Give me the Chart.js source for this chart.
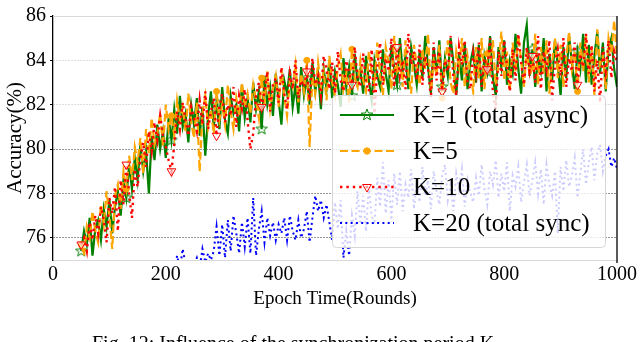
<!DOCTYPE html>
<html>
<head>
<meta charset="utf-8">
<script src="https://cdn.jsdelivr.net/npm/chart.js@4.4.1/dist/chart.umd.min.js"></script>
<style>
  html, body { margin: 0; padding: 0; background: #fff; overflow: hidden; }
  #wrap { position: relative; width: 640px; height: 342px; overflow: hidden; }
  #legenda-fig { position: absolute; left: 92px; top: 333px; line-height: 20px; font-size: 20px; font-family: "Liberation Serif", "Times New Roman", serif; white-space: nowrap; color: #000; }
</style>
</head>
<body>
<div id="wrap">
  <canvas id="grafico" width="640" height="342"></canvas>
  <div id="legenda-fig">Fig. 12: Influence of the synchronization period K</div>
</div>
<script>
// amostras a cada 5 rounds, de 50 a 1000
const epochStart = 50;
const epochStep = 5;

// K=1 (total async)
const k1 = [
  75.4, 76.3, 75.7, 76.9, 75.2, 76.4, 76.8, 75.9, 77.3, 76.5, 77.7, 76.2, 77.4, 78.1, 77.0, 78.6, 77.8, 79.3, 78.2, 79.6,
  78.6, 80.2, 79.0, 79.9, 78.0, 80.6, 79.5, 81.1, 80.0, 80.8, 79.6, 81.4, 80.4, 81.8, 80.7, 82.4, 81.0, 81.6, 80.3, 82.0,
  81.1, 82.3, 80.6, 81.9, 79.7, 81.5, 82.6, 81.0, 82.1, 80.9, 82.8, 81.3, 80.7, 82.4, 81.6, 82.0, 80.8, 82.9, 81.4, 82.3,
  81.2, 83.0, 81.8, 82.6, 80.9, 83.3, 82.0, 82.8, 81.5, 83.4, 82.2, 81.1, 83.1, 82.5, 83.6, 81.9, 82.9, 81.6, 83.7, 82.4,
  83.2, 82.0, 83.9, 82.6, 83.4, 81.8, 83.6, 82.7, 84.0, 82.3, 83.5, 82.9, 81.9, 84.1, 82.8, 83.7, 82.4, 84.3, 83.0, 83.6,
  82.5, 84.2, 83.1, 82.2, 84.0, 83.3, 82.8, 84.5, 83.4, 82.6, 84.7, 83.6, 82.9, 85.0, 83.5, 84.2, 82.7, 84.6, 83.8, 82.9,
  84.4, 83.2, 85.1, 83.7, 82.5, 84.6, 83.4, 84.9, 82.8, 84.1, 83.3, 85.0, 83.9, 82.4, 84.3, 83.1, 84.8, 82.7, 83.9, 84.5,
  83.0, 84.7, 82.6, 84.2, 83.5, 85.1, 83.2, 82.4, 84.6, 83.7, 84.9, 82.9, 84.0, 83.4, 85.2, 83.6, 82.5, 84.8, 85.6, 83.3,
  84.5, 82.8, 84.1, 83.5, 85.0, 82.6, 84.3, 83.1, 84.9, 83.8, 82.4, 84.6, 83.2, 85.1, 83.9, 82.7, 84.4, 83.6, 85.2, 83.0,
  84.7, 82.9, 84.2, 85.3, 83.4, 84.8, 82.6, 84.5, 85.0, 83.6, 82.8
];

// K=5
const k5 = [
  75.7, 75.2, 76.5, 76.0, 77.2, 76.3, 75.8, 77.5, 76.6, 78.1, 77.0, 75.5, 77.9, 78.4, 77.3, 79.0, 78.2, 79.7, 78.6, 80.1,
  79.4, 80.5, 78.9, 80.9, 79.8, 81.4, 80.2, 80.7, 81.6, 80.1, 82.0, 80.9, 81.5, 80.6, 82.2, 81.3, 81.9, 80.8, 82.5, 81.2,
  80.5, 82.1, 79.0, 81.6, 82.4, 81.0, 81.8, 80.7, 82.6, 81.3, 82.0, 81.1, 82.9, 81.7, 80.9, 82.3, 81.5, 83.0, 81.9, 82.5,
  81.6, 82.9, 82.2, 81.4, 83.2, 82.0, 83.5, 81.8, 82.7, 83.3, 81.9, 83.6, 82.4, 81.5, 83.1, 82.8, 83.8, 82.1, 83.4, 82.6,
  84.0, 80.1, 83.3, 82.5, 83.9, 82.8, 83.5, 82.2, 84.2, 83.0, 82.4, 83.7, 84.3, 82.7, 83.4, 82.1, 84.5, 83.2, 82.8, 84.0,
  83.1, 82.6, 84.4, 83.5, 82.9, 84.8, 83.3, 82.4, 84.6, 83.9, 82.7, 85.1, 83.6, 84.2, 82.8, 84.9, 83.4, 82.5, 84.7, 83.8,
  82.9, 84.5, 83.6, 85.2, 82.6, 84.0, 83.3, 84.7, 82.3, 83.8, 84.9, 83.0, 82.5, 84.4, 83.7, 85.0, 82.8, 84.2, 83.4, 82.6,
  84.6, 83.2, 85.0, 82.7, 84.3, 83.6, 84.9, 82.9, 83.8, 85.3, 83.1, 84.4, 82.6, 84.8, 83.5, 85.1, 84.0, 82.8, 84.5, 83.3,
  83.7, 85.2, 82.9, 84.6, 83.4, 84.9, 82.5, 83.9, 85.0, 83.2, 84.7, 82.8, 84.1, 85.3, 83.6, 84.4, 82.6, 84.8, 83.5, 85.1,
  83.0, 84.6, 82.4, 85.4, 83.8, 84.2, 82.7, 85.0, 84.3, 85.8, 84.1
];

// K=10
const k10 = [
  75.7, 76.0, 75.4, 76.7, 75.9, 77.0, 76.2, 77.4, 76.8, 75.8, 77.8, 77.1, 78.3, 76.3, 78.6, 77.5, 79.3, 78.0, 76.9, 79.1,
  78.3, 79.6, 80.3, 79.2, 80.8, 79.9, 81.2, 80.4, 81.5, 80.6, 80.1, 79.5, 79.0, 80.2, 81.7, 80.9, 82.1, 81.3, 80.6, 81.9,
  81.4, 80.8, 82.2, 81.1, 82.6, 80.9, 81.7, 82.3, 80.6, 81.9, 82.5, 81.2, 82.0, 81.5, 82.8, 81.0, 82.4, 81.8, 82.7, 81.3,
  80.0, 80.7, 82.4, 83.0, 81.9, 82.6, 83.5, 81.7, 82.9, 83.2, 82.1, 83.7, 82.5, 81.8, 83.4, 82.7, 84.0, 82.3, 83.1, 82.8,
  83.5, 82.2, 84.1, 82.9, 83.3, 82.4, 84.2, 83.6, 82.7, 83.9, 82.5, 84.4, 83.1, 82.6, 84.0, 83.4, 82.9, 84.6, 83.2, 82.8,
  84.3, 83.0, 82.6, 84.5, 81.6, 83.7, 84.8, 82.9, 84.1, 83.5, 85.0, 82.8, 84.6, 83.3, 84.0, 82.7, 85.2, 83.8, 84.4, 83.1,
  84.7, 82.9, 84.2, 83.6, 82.3, 84.8, 83.1, 84.4, 82.6, 84.0, 83.5, 85.1, 83.2, 82.4, 84.6, 83.8, 84.9, 83.0, 82.7, 84.3,
  83.4, 84.8, 82.8, 84.1, 83.6, 85.0, 82.5, 81.8, 84.4, 83.3, 84.9, 83.7, 82.6, 84.5, 83.1, 85.2, 83.9, 82.9, 84.6, 83.5,
  84.2, 83.0, 85.1, 82.7, 84.4, 83.6, 84.9, 82.2, 83.8, 84.5, 83.3, 85.0, 82.8, 84.1, 83.5, 84.8, 82.9, 84.3, 83.7, 85.2,
  83.4, 84.7, 82.6, 84.0, 82.1, 84.6, 83.5, 84.9, 83.2, 84.4, 83.9
];

// K=20 (total sync)
const k20 = [
  71.5, 72.0, 71.2, 72.4, 71.8, 72.6, 72.1, 72.9, 72.3, 73.0, 72.5, 73.3, 72.8, 73.1, 73.6, 72.9, 73.4, 73.8, 73.2, 74.0,
  73.5, 74.1, 73.7, 74.3, 73.9, 74.5, 74.0, 74.4, 74.2, 74.7, 74.3, 74.6, 74.8, 74.4, 75.2, 74.6, 75.5, 74.8, 75.0, 74.7,
  74.8, 75.1, 74.6, 75.5, 74.9, 75.3, 75.0, 75.4, 76.5, 75.2, 76.6, 75.1, 76.8, 75.4, 77.0, 76.2, 75.3, 76.7, 75.6, 76.9,
  75.3, 77.8, 75.2, 76.4, 77.2, 75.8, 76.9, 76.1, 76.7, 75.9, 76.6, 76.2, 76.9, 75.9, 77.0, 76.3, 75.9, 76.8, 76.0, 76.4,
  77.2, 75.8, 76.9, 77.9, 77.2, 77.7, 76.9, 77.5, 76.7, 75.9, 77.6, 76.4, 77.7, 75.1, 76.3, 75.2, 77.0, 76.1, 78.1, 76.6,
  77.9, 76.3, 78.3, 77.0, 76.6, 78.7, 77.4, 79.4, 77.1, 78.6, 76.8, 78.9, 77.5, 79.0, 77.2, 78.4, 77.8, 79.1, 77.3, 78.5,
  77.6, 79.2, 77.9, 78.6, 77.3, 79.0, 78.1, 77.5, 78.8, 79.3, 77.7, 78.4, 77.2, 78.9, 78.2, 79.1, 77.4, 78.6, 78.0, 77.6,
  78.7, 77.9, 79.3, 78.2, 77.5, 79.0, 78.4, 79.5, 77.8, 78.9, 78.1, 79.4, 77.2, 78.8, 78.3, 79.2, 77.6, 78.5, 79.3, 77.9,
  78.6, 79.4, 78.0, 79.1, 77.5, 79.3, 78.4, 77.9, 79.0, 76.2, 79.2, 78.1, 79.5, 78.3, 78.8, 79.6, 77.8, 78.9, 80.0, 78.4,
  79.4, 80.1, 78.6, 79.8, 80.2, 79.0, 79.7, 80.0, 79.2, 79.6, 79.1
];

const nomes = ['K=1 (total async)', 'K=5', 'K=10', 'K=20 (total sync)'];
const xTicks = [0, 200, 400, 600, 800, 1000];
const yTicks = [76, 78, 80, 82, 84, 86];

const epochs = k1.map((_, i) => epochStart + i * epochStep);
const fonte = '"Liberation Serif", "Times New Roman", serif';

// estrela vazada (marcador do K=1)
function fazerEstrela(cor) {
    const c = document.createElement('canvas');
    c.width = 14; c.height = 14;
    const g = c.getContext('2d');
    g.beginPath();
    for (let i = 0; i < 10; i++) {
        const r = i % 2 === 0 ? 6 : 2.5;
        const a = -Math.PI / 2 + i * Math.PI / 5;
        g.lineTo(7 + r * Math.cos(a), 7 + r * Math.sin(a));
    }
    g.closePath();
    g.strokeStyle = cor;
    g.lineWidth = 1;
    g.stroke();
    return c;
}

function pontos(valores) {
    return epochs.map((e, i) => ({ x: e, y: valores[i] }));
}

function marcaCada(r) {
    return function(ctx) { return ctx.dataIndex % 16 === 0 ? r : 0; };
}

const estrela = fazerEstrela('#008000');

// moldura: topo cinza claro e lateral direita preta
const moldura = {
    id: 'moldura',
    afterDatasetsDraw(chart) {
        const { ctx, chartArea: a } = chart;
        ctx.save();
        ctx.strokeStyle = '#d9d9d9';
        ctx.lineWidth = 1;
        ctx.beginPath();
        ctx.moveTo(a.left, a.top + 0.5);
        ctx.lineTo(a.right, a.top + 0.5);
        ctx.stroke();
        ctx.strokeStyle = '#000';
        ctx.lineWidth = 1.3;
        ctx.beginPath();
        ctx.moveTo(a.right, a.top);
        ctx.lineTo(a.right, a.bottom + 3);
        ctx.stroke();
        ctx.restore();
    }
};

// legenda dentro da area do grafico, semi transparente
const legendaInterna = {
    id: 'legendaInterna',
    afterDraw(chart) {
        const { ctx, chartArea: a } = chart;
        const w = 273, h = 152;
        const x0 = a.right - 12 - w;
        const y0 = a.bottom - 13 - h;
        ctx.save();
        ctx.beginPath();
        ctx.roundRect(x0 + 0.5, y0 + 0.5, w, h, 4);
        ctx.fillStyle = 'rgba(255,255,255,0.8)';
        ctx.fill();
        ctx.strokeStyle = '#d6d6d6';
        ctx.lineWidth = 1;
        ctx.stroke();

        chart.data.datasets.forEach(function(ds, i) {
            const y = y0 + 20 + i * 36;
            ctx.save();
            ctx.strokeStyle = ds.borderColor;
            ctx.lineWidth = ds.borderWidth;
            ctx.setLineDash(ds.borderDash || []);
            ctx.beginPath();
            ctx.moveTo(x0 + 8, y);
            ctx.lineTo(x0 + 62, y);
            ctx.stroke();
            ctx.restore();
            if (ds.pointStyle) {
                ctx.save();
                ctx.fillStyle = ds.pointBackgroundColor;
                ctx.strokeStyle = ds.pointBorderColor;
                ctx.lineWidth = ds.pointBorderWidth;
                Chart.helpers.drawPoint(ctx, {
                    pointStyle: ds.pointStyle,
                    rotation: ds.pointRotation || 0,
                    radius: ds.legendRadius,
                    borderWidth: ds.pointBorderWidth
                }, x0 + 35, y);
                ctx.restore();
            }
            ctx.fillStyle = '#000';
            ctx.font = '25px ' + fonte;
            ctx.textBaseline = 'middle';
            ctx.fillText(nomes[i], x0 + 81, y + 1);
        });
        ctx.restore();
    }
};

const contexto = document.getElementById('grafico').getContext('2d');

const grafico = new Chart(contexto, {
    type: 'line',
    data: {
        datasets: [
            {
                label: nomes[0], data: pontos(k1), order: 4,
                borderColor: '#008000', borderWidth: 2.2,
                pointStyle: estrela, pointRadius: marcaCada(6), legendRadius: 6,
                pointBackgroundColor: 'rgba(0,0,0,0)', pointBorderColor: '#008000', pointBorderWidth: 1
            },
            {
                label: nomes[1], data: pontos(k5), order: 3,
                borderColor: '#FFA500', borderWidth: 2.2, borderDash: [8, 3.5],
                pointStyle: 'circle', pointRadius: marcaCada(3), legendRadius: 3.2,
                pointBackgroundColor: '#FFA500', pointBorderColor: '#FFA500', pointBorderWidth: 1
            },
            {
                label: nomes[2], data: pontos(k10), order: 2,
                borderColor: '#FF0000', borderWidth: 2.4, borderDash: [2.4, 4],
                pointStyle: 'triangle', pointRotation: 180, pointRadius: marcaCada(5), legendRadius: 5,
                pointBackgroundColor: 'rgba(255,255,255,0.6)', pointBorderColor: '#FF0000', pointBorderWidth: 1
            },
            {
                label: nomes[3], data: pontos(k20), order: 1,
                borderColor: '#0000FF', borderWidth: 2, borderDash: [2, 3.3],
                pointRadius: 0
            }
        ]
    },
    options: {
        responsive: false,
        animation: false,
        devicePixelRatio: 1,
        clip: 0,
        layout: { padding: { top: 10, right: 23, bottom: 32, left: 0 } },
        elements: { line: { tension: 0, fill: false }, point: { hoverRadius: 0 } },
        plugins: { legend: { display: false }, tooltip: { enabled: false } },
        scales: {
            x: {
                type: 'linear', min: 0, max: 1000,
                afterBuildTicks: function(s) { s.ticks = xTicks.map(v => ({ value: v })); },
                afterFit: function(s) { s.height = 50; },
                grid: { drawOnChartArea: false, drawTicks: false },
                border: { color: '#d9d9d9', width: 1 },
                ticks: {
                    color: '#000', font: { family: fonte, size: 20 }, padding: 3, maxRotation: 0, autoSkip: false,
                    callback: function(v) { return String(v); }
                },
                title: { display: true, text: 'Epoch Time(Rounds)', color: '#000', font: { family: fonte, size: 19 }, padding: 0 }
            },
            y: {
                type: 'linear', min: 75, max: 86,
                afterBuildTicks: function(s) { s.ticks = yTicks.map(v => ({ value: v })); },
                afterFit: function(s) { s.width = 53; },
                grid: {
                    color: function(ctx) { return ctx.tick && ctx.tick.value <= 80 ? 'rgba(0,0,0,0.55)' : '#d4d4d4'; },
                    lineWidth: 1, drawTicks: true, tickLength: 3, tickColor: '#000', tickWidth: 1.2
                },
                border: { color: '#000', width: 1.3, dash: [1.5, 1.5] },
                ticks: {
                    color: '#000', font: { family: fonte, size: 20 }, padding: 4,
                    callback: function(v) { return String(v); }
                },
                title: { display: true, text: 'Accuracy(%)', color: '#000', font: { family: fonte, size: 21 }, padding: { top: 3, bottom: 0 } }
            }
        }
    },
    plugins: [moldura, legendaInterna]
});
</script>
</body>
</html>
